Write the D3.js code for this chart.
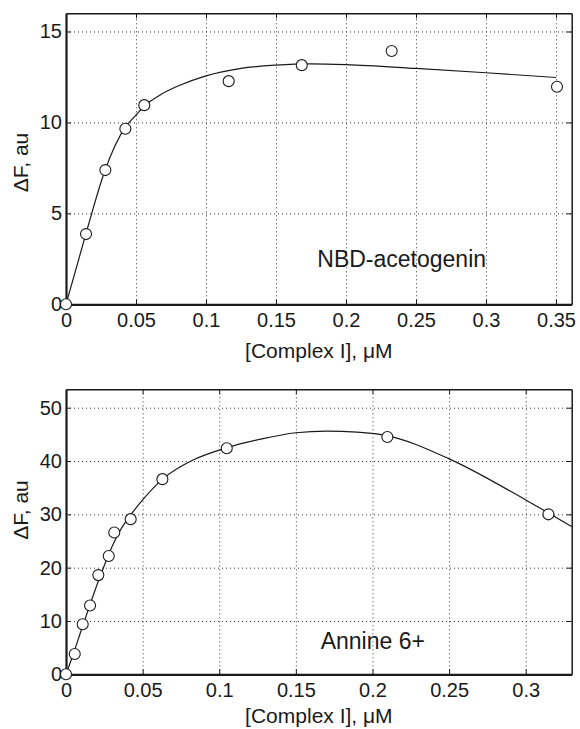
<!DOCTYPE html>
<html>
<head>
<meta charset="utf-8">
<script src="https://cdn.jsdelivr.net/npm/d3@7"></script>
<style>
  body { margin: 0; background: #fff; }
  svg { display: block; font-family: "Liberation Sans", Arial, sans-serif; }
  .tick text { font-size: 20px; fill: #1a1a1a; }
  .grid line { stroke: #333; stroke-width: 1; stroke-dasharray: 1,3; }
  .grid .domain { display: none; }
</style>
</head>
<body>
<div id="chart"></div>
<script>
// NBD-acetogenin panel
const nbdX = [0, 0.0143, 0.0281, 0.0424, 0.0559, 0.1162, 0.1684, 0.2326, 0.3507]
const nbdY = [0, 3.86, 7.38, 9.65, 10.95, 12.27, 13.15, 13.93, 11.96]
const nbdFitX = [0, 0.0143, 0.028, 0.042, 0.05, 0.056, 0.067, 0.08, 0.1, 0.125, 0.15, 0.175, 0.2, 0.25, 0.3, 0.35]
const nbdFitY = [0, 3.9, 7.4, 9.7, 10.4, 10.9, 11.5, 12.0, 12.56, 12.97, 13.15, 13.22, 13.18, 12.97, 12.73, 12.47]
const nbdXTicks = [0, 0.05, 0.1, 0.15, 0.2, 0.25, 0.3, 0.35]
const nbdYTicks = [0, 5, 10, 15]

// Annine 6+ panel
const annX = [0, 0.0057, 0.0109, 0.0157, 0.0211, 0.0279, 0.0315, 0.0422, 0.0629, 0.1049, 0.2097, 0.3148]
const annY = [0, 3.8, 9.4, 12.9, 18.6, 22.2, 26.6, 29.1, 36.6, 42.4, 44.5, 30.0]
const annFitX = [0, 0.005, 0.01, 0.015, 0.02, 0.025, 0.03, 0.035, 0.042, 0.05, 0.063, 0.083, 0.105, 0.127, 0.15, 0.17, 0.19, 0.21, 0.25, 0.3, 0.33]
const annFitY = [0, 4.0, 8.3, 12.5, 16.6, 20.4, 23.9, 26.8, 29.8, 32.7, 36.6, 40.2, 42.5, 44.1, 45.3, 45.6, 45.4, 44.7, 40.4, 32.7, 27.7]
const annXTicks = [0, 0.05, 0.1, 0.15, 0.2, 0.25, 0.3]
const annYTicks = [0, 10, 20, 30, 40, 50]

const xLabel = "[Complex I], \u03bcM"
const yLabel = "\u0394F, au"

const svg = d3.select("#chart")
  .append("svg")
  .attr("width", 580)
  .attr("height", 729)

function drawPanel(p) {
  const w = p.right - p.left
  const h = p.bottom - p.top

  const g = svg.append("g")
    .attr("transform", `translate(${p.left},${p.top})`)

  const xScale = d3.scaleLinear().domain(p.xDomain).range([0, w])
  const yScale = d3.scaleLinear().domain(p.yDomain).range([h, 0])

  // dotted grid
  g.append("g").attr("class", "grid")
    .attr("transform", `translate(0,${h})`)
    .call(d3.axisBottom(xScale).tickValues(p.xTicks.filter(d => d > 0)).tickSize(-h).tickFormat(""))
  g.append("g").attr("class", "grid")
    .call(d3.axisLeft(yScale).tickValues(p.yTicks.filter(d => d > 0)).tickSize(-w).tickFormat(""))

  // ticks on all four sides, pointing inward
  const bottomAxis = g.append("g")
    .attr("transform", `translate(0,${h})`)
    .call(d3.axisBottom(xScale).tickValues(p.xTicks).tickSizeInner(-5).tickSizeOuter(0)
      .tickPadding(9).tickFormat(d => String(d)))
  const leftAxis = g.append("g")
    .call(d3.axisLeft(yScale).tickValues(p.yTicks).tickSizeInner(-5).tickSizeOuter(0)
      .tickPadding(4).tickFormat(d => String(d)))
  g.append("g")
    .call(d3.axisTop(xScale).tickValues(p.xTicks).tickSizeInner(-5).tickSizeOuter(0).tickFormat(""))
  g.append("g")
    .attr("transform", `translate(${w},0)`)
    .call(d3.axisRight(yScale).tickValues(p.yTicks).tickSizeInner(-5).tickSizeOuter(0).tickFormat(""))

  g.selectAll(".domain").filter(function() { return !this.parentNode.classList.contains("grid") })
    .attr("stroke", "#1a1a1a").attr("stroke-width", 1.5)
  g.selectAll(".tick line").filter(function() { return !this.parentNode.parentNode.classList.contains("grid") })
    .attr("stroke", "#1a1a1a")
  bottomAxis.select(".domain").attr("stroke-width", 2.2)
  leftAxis.select(".domain").attr("stroke-width", 2.2)

  // fitted curve
  const fit = p.fitX.map((x, i) => [x, p.fitY[i]])
  g.append("path")
    .datum(fit)
    .attr("fill", "none")
    .attr("stroke", "#1a1a1a")
    .attr("stroke-width", 1.2)
    .attr("d", d3.line()
      .x(d => xScale(d[0]))
      .y(d => yScale(d[1]))
      .curve(d3.curveMonotoneX))

  // data points
  const pts = p.dataX.map((x, i) => [x, p.dataY[i]])
  g.selectAll("circle")
    .data(pts)
    .join("circle")
      .attr("cx", d => xScale(d[0]))
      .attr("cy", d => yScale(d[1]))
      .attr("r", 5.5)
      .attr("fill", "#fff")
      .attr("stroke", "#1a1a1a")
      .attr("stroke-width", 1.1)

  // labels
  svg.append("text")
    .text(xLabel)
    .attr("x", p.left + w / 2)
    .attr("y", p.xLabelY)
    .attr("text-anchor", "middle")
    .attr("font-size", 21)
    .attr("fill", "#1a1a1a")

  svg.append("text")
    .text(yLabel)
    .attr("transform", `translate(28,${p.yLabelY}) rotate(-90)`)
    .attr("text-anchor", "middle")
    .attr("font-size", 21)
    .attr("fill", "#1a1a1a")

  svg.append("text")
    .text(p.name)
    .attr("x", p.nameX)
    .attr("y", p.nameY)
    .attr("font-size", 23)
    .attr("fill", "#1a1a1a")
}

drawPanel({
  left: 66, right: 571.7, top: 13.3, bottom: 304.3,
  xDomain: [0, 0.3612], yDomain: [0, 16],
  xTicks: nbdXTicks, yTicks: nbdYTicks,
  dataX: nbdX, dataY: nbdY, fitX: nbdFitX, fitY: nbdFitY,
  xLabelY: 358.3, yLabelY: 162.5,
  name: "NBD-acetogenin", nameX: 317.3, nameY: 266.7
})

drawPanel({
  left: 66, right: 571.7, top: 389.3, bottom: 674.3,
  xDomain: [0, 0.33], yDomain: [0, 53.45],
  xTicks: annXTicks, yTicks: annYTicks,
  dataX: annX, dataY: annY, fitX: annFitX, fitY: annFitY,
  xLabelY: 723.3, yLabelY: 510,
  name: "Annine 6+", nameX: 320.7, nameY: 649.3
})
</script>
</body>
</html>
